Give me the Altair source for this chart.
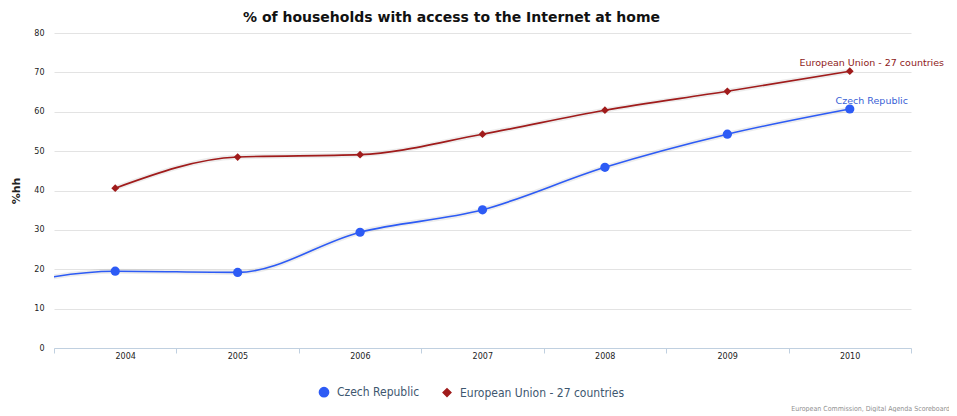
import altair as alt
import pandas as pd

# ---- data ----
series = ["Czech Republic", "European Union - 27 countries"]
cz_years = [2003, 2004, 2005, 2006, 2007, 2008, 2009, 2010]
cz_values = [15.0, 19.5, 19.2, 29.4, 35.1, 45.9, 54.3, 60.7]
eu_years = [2004, 2005, 2006, 2007, 2008, 2009, 2010]
eu_values = [40.6, 48.5, 49.1, 54.3, 60.4, 65.2, 70.3]
x_bounds = [2003.5, 2004.5, 2005.5, 2006.5, 2007.5, 2008.5, 2009.5, 2010.5]
y_ticks = [0, 10, 20, 30, 40, 50, 60, 70, 80]
colors = ["#2D5BF5", "#A01B1B"]
label_colors = ["#3A5FD6", "#8E1A1A"]

rows = [{"series": series[0], "year": y, "value": v} for y, v in zip(cz_years, cz_values)]
rows += [{"series": series[1], "year": y, "value": v} for y, v in zip(eu_years, eu_values)]
df = pd.DataFrame(rows)
df_pts = df[df["year"] >= 2004]
df_end = df[df["year"] == 2010].copy()
df_end["lc"] = df_end["series"].map(dict(zip(series, label_colors)))

FONT = "DejaVu Sans"

xscale = alt.Scale(domain=[2003.5, 2010.5], nice=False, zero=False)
yscale = alt.Scale(domain=[0, 80], nice=False)
cscale = alt.Scale(domain=series, range=colors)

x_axis = alt.Axis(values=x_bounds, orient="bottom", tickSize=5, tickColor="#C0D0E0",
                  labelExpr="datum.value > 2010 ? '' : format(datum.value + 0.5, 'd')",
                  labelOffset=61, grid=False, domainColor="#C0D0E0", labelFontSize=8,
                  labelColor="#222222", labelFont=FONT, labelPadding=-1, title=None)
y_axis = alt.Axis(values=y_ticks, title="%hh", grid=True, gridColor="#E3E3E3",
                  domain=False, ticks=False, labelPadding=10, labelFontSize=8,
                  labelColor="#222222", labelFont=FONT,
                  titleFont=FONT, titleFontSize=11, titleFontWeight="bold",
                  titleColor="#222222", titlePadding=12)
X = alt.X("year:Q", scale=xscale, axis=x_axis)
Y = alt.Y("value:Q", scale=yscale, axis=y_axis)

leg = alt.Legend(title=None, orient="none", direction="horizontal",
                 legendX=264, legendY=353, labelFont="DejaVu Sans Condensed",
                 labelFontSize=12, labelColor="#3E576F", symbolSize=45, labelLimit=400,
                 columnPadding=20, labelOffset=7)

base = alt.Chart(df)

shadow = base.mark_line(interpolate="monotone", strokeWidth=5, opacity=0.07, clip=True).encode(
    x=X, y=Y, detail="series:N", color=alt.value("#000000"))

lines = base.mark_line(interpolate="monotone", strokeWidth=1.6, clip=True).encode(
    x=X, y=Y, color=alt.Color("series:N", scale=cscale, legend=leg))

points = alt.Chart(df_pts).mark_point(filled=True, opacity=1).encode(
    x=X, y=Y,
    color=alt.Color("series:N", scale=cscale, legend=leg),
    shape=alt.Shape("series:N", scale=alt.Scale(domain=series, range=["circle", "diamond"]),
                    legend=leg),
    size=alt.Size("series:N", scale=alt.Scale(domain=series, range=[85, 60]), legend=None))

end_labels = alt.Chart(df_end).mark_text(font=FONT, fontSize=9.5, dx=22, dy=-8, align="center").encode(
    x=X, y=Y, text="series:N", color=alt.Color("lc:N", scale=None))

credit = alt.Chart(pd.DataFrame({"t": ["European Commission, Digital Agenda Scoreboard"]})).mark_text(
    font="DejaVu Sans Condensed", fontSize=7, color="#909090", align="right", baseline="middle").encode(
    x=alt.value(896), y=alt.value(376), text="t:N")

chart = alt.layer(shadow, lines, points, end_labels, credit).properties(
    width=857, height=315,
    autosize=alt.AutoSizeParams(type="none"),
    padding={"left": 46, "top": 25, "right": 38, "bottom": 64},
    title=alt.TitleParams("% of households with access to the Internet at home",
                          font=FONT, fontSize=14, fontWeight="bold", color="#111111",
                          anchor="middle", dx=-31, offset=4),
).configure_view(stroke=None)

chart.save("out.html", embed_options={"renderer": "svg", "actions": False})
